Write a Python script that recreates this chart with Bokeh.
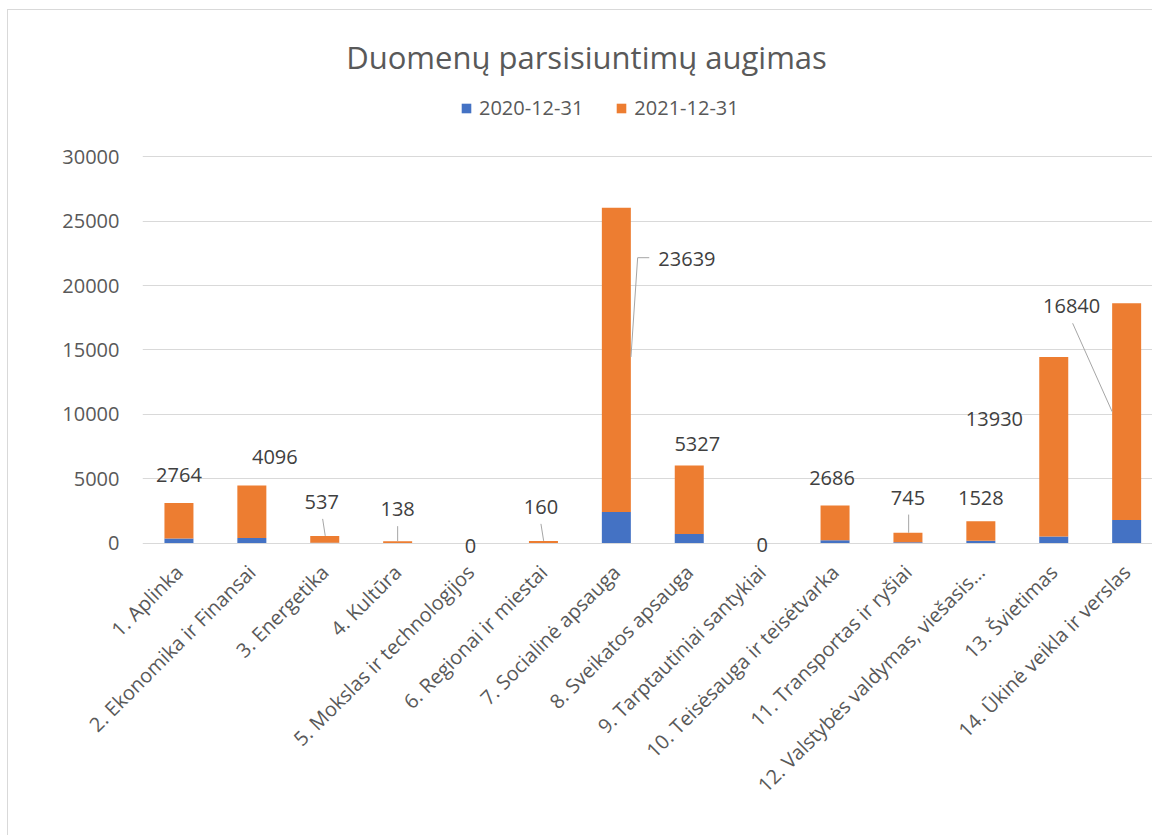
import math
from bokeh.plotting import figure
from bokeh.models import (ColumnDataSource, Range1d, FixedTicker, Label, LabelSet)
from bokeh.core.properties import value
from bokeh.embed import file_html
from bokeh.resources import INLINE

# ---------------- data ----------------
categories = [
    "1. Aplinka", "2. Ekonomika ir Finansai", "3. Energetika", "4. Kultūra",
    "5. Mokslas ir technologijos", "6. Regionai ir miestai", "7. Socialinė apsauga",
    "8. Sveikatos apsauga", "9. Tarptautiniai santykiai", "10. Teisėsauga ir teisėtvarka",
    "11. Transportas ir ryšiai", "12. Valstybės valdymas, viešasis…", "13. Švietimas",
    "14. Ūkinė veikla ir verslas",
]
series_names = ["2020-12-31", "2021-12-31"]
values_2020 = [340, 380, 15, 5, 0, 5, 2400, 700, 0, 220, 50, 170, 510, 1790]
values_2021 = [2764, 4096, 537, 138, 0, 160, 23639, 5327, 0, 2686, 745, 1528, 13930, 16840]
y_ticks = [0, 5000, 10000, 15000, 20000, 25000, 30000]

# ---------------- styles / layout ----------------
BLUE = "#4472C4"
ORANGE = "#ED7D31"
GRID = "#d9d9d9"
TXT = "#595959"
LBL = "#404040"
FONT = "Open Sans"

W, H = 1145, 826              # content size (page origin at 8, 10)
LEFT = 134                    # frame left (page x = 142)
FRAME_BOTTOM = 544            # frame bottom in content coords (page y = 554)
BOTTOM = H - FRAME_BOTTOM
FRAME_W = W - LEFT
ZERO_Y = 532.5                # content y of value 0 (page 542.5)
PX_Y = 386.2 / 30000          # px per value unit
PX_X = 72.9                   # px per category
X0 = 0.5
X1 = X0 + FRAME_W / PX_X
Y_TOP = ZERO_Y / PX_Y
Y_BOT = -(FRAME_BOTTOM - ZERO_Y) / PX_Y

# label offsets (px, relative to bar centre / bar top; +dy = down)
label_dx = [0, 23, -3, 0, 0, -2.5, 70.6, 8, 0, -3, 0, 0, -59.3, -55]
label_dy = [-28.5, -28, -34, -32, 2.5, -34, 51.2, -21, 1.5, -28, -35, -23.3, 62, 2.8]
# leader lines: (category index, list of (dx, dy) px points relative to bar centre / top)
leaders = [
    (2, [(-2.1, -17), (0.5, 0)]),
    (3, [(0, -15), (0, 0)]),
    (5, [(-2.5, -17), (0.2, 0)]),
    (6, [(32.9, 49.9), (21.3, 49.9), (14.6, 149.2)]),
    (10, [(0.7, -18.2), (0.7, 0)]),
    (13, [(-54, 20.1), (-14.5, 108.5)]),
]

xs = list(range(1, len(categories) + 1))
tops = [a + b for a, b in zip(values_2020, values_2021)]

src = ColumnDataSource(dict(x=xs, b=values_2020, o=values_2021))

p = figure(width=W, height=H, output_backend="svg", toolbar_location=None,
           x_range=Range1d(X0, X1), y_range=Range1d(Y_BOT, Y_TOP),
           min_border_left=LEFT, min_border_right=0, min_border_top=0,
           min_border_bottom=BOTTOM, outline_line_color=None,
           background_fill_color="white", border_fill_color="white")

p.vbar_stack(["b", "o"], x="x", width=29 / PX_X, color=[BLUE, ORANGE],
             line_color=None, source=src, legend_label=series_names)

# leader lines
lx, ly = [], []
for i, pts in leaders:
    lx.append([xs[i] + dx / PX_X for dx, dy in pts])
    ly.append([tops[i] - dy / PX_Y for dx, dy in pts])
p.multi_line(lx, ly, line_color="#a6a6a6", line_width=1)

# data labels
lab_src = ColumnDataSource(dict(
    x=[x + dx / PX_X for x, dx in zip(xs, label_dx)],
    y=[t - dy / PX_Y for t, dy in zip(tops, label_dy)],
    t=[str(v) for v in values_2021],
))
p.add_layout(LabelSet(x="x", y="y", text="t", source=lab_src, text_align="center",
                      text_baseline="middle", text_font=value(FONT),
                      text_font_size=value("20px"), text_color=value(LBL)))

# axes
p.xaxis.ticker = FixedTicker(ticks=xs)
p.xaxis.major_label_overrides = {x: c for x, c in zip(xs, categories)}
p.xaxis.major_label_orientation = math.pi / 4
p.xaxis.major_label_text_font = FONT
p.xaxis.major_label_text_font_size = "20px"
p.xaxis.major_label_text_color = TXT
p.xaxis.major_label_standoff = 14
p.xaxis.axis_line_color = None
p.xaxis.major_tick_line_color = None
p.xaxis.minor_tick_line_color = None
p.xaxis.major_tick_out = 0
p.xaxis.major_tick_in = 0

p.yaxis.ticker = FixedTicker(ticks=y_ticks)
p.yaxis.major_label_text_font = FONT
p.yaxis.major_label_text_font_size = "20px"
p.yaxis.major_label_text_color = TXT
p.yaxis.major_label_standoff = 23
p.yaxis.axis_line_color = None
p.yaxis.major_tick_line_color = None
p.yaxis.minor_tick_line_color = None
p.yaxis.major_tick_out = 0
p.yaxis.major_tick_in = 0

p.xgrid.grid_line_color = None
p.ygrid.grid_line_color = GRID
p.ygrid.grid_line_width = 1

# title (screen units relative to frame bottom-left)
p.add_layout(Label(x=586 - 142, y=554 - 56, x_units="screen", y_units="screen",
                   text="Duomenų parsisiuntimų augimas", text_align="center",
                   text_baseline="middle", text_font=FONT, text_font_size="31px",
                   text_color=TXT))

# legend
lg = p.legend[0]
lg.orientation = "horizontal"
lg.location = (460 - 142, 554 - 121)
lg.padding = 0
lg.margin = 0
lg.spacing = 32
lg.glyph_width = 12
lg.glyph_height = 12
lg.label_standoff = 7
lg.label_text_font = FONT
lg.label_text_font_size = "20px"
lg.label_text_color = TXT
lg.border_line_color = None
lg.background_fill_alpha = 0

p.styles = {"margin-left": "7px", "margin-top": "9px",
            "border-top": "1px solid #d9d9d9", "border-left": "1px solid #d9d9d9"}

open("out.html", "w").write(file_html(p, INLINE))
